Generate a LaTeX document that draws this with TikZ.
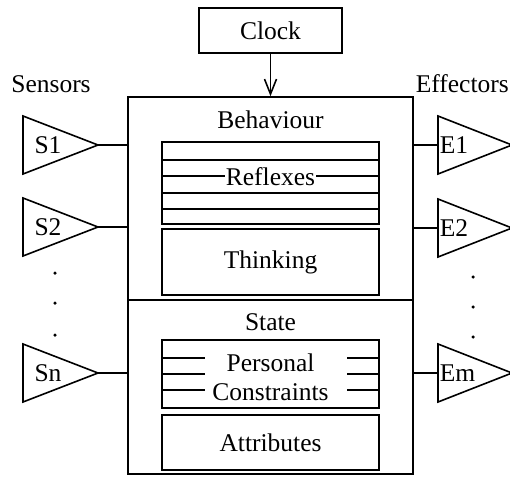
\documentclass[tikz,border=0pt]{standalone}
\usepackage{fontspec}
\setmainfont{Liberation Serif}
\usetikzlibrary{arrows.meta}

\begin{document}
\begin{tikzpicture}[x=1pt, y=-1pt, line width=1.6pt,
    font=\fontsize{25.5}{29}\selectfont,
    >={Straight Barb[length=15pt, width=12pt]},
    box/.style={draw, minimum width=217pt, inner sep=0pt},
    blob/.style={circle, fill=black, inner sep=0pt, minimum size=3.5pt}]
\useasboundingbox (0,0) rectangle (510,477);

% clock and the agent frame
\node[box, minimum width=143pt, minimum height=45pt] (clock) at (270.5,30.5) {Clock};
\node[draw, minimum width=285pt, minimum height=377pt] (agent) at (270.5,285.5) {};
\draw[->] (clock) -- (agent);
\draw (agent.west |- 0,300) -- (agent.east |- 0,300);

% behaviour part
\node (behav) at (270.5,120) {Behaviour};
\node[box, minimum height=82pt] (reflex) at (270.5,183) {};
\foreach \y in {160,176,193,209}
  \draw (reflex.west |- 0,\y) -- (reflex.east |- 0,\y);
\node[fill=white, inner xsep=1pt, inner ysep=0pt] (reflexlab) at (270.5,177) {Reflexes};
\node[box, minimum height=66pt] (think) at (270.5,262) {Thinking};

% state part
\node (state) at (270.5,322) {State};
\node[box, minimum height=68pt] (constr) at (270.5,374) {};
\foreach \y in {358,374,390} {
  \draw (constr.west |- 0,\y) -- (205,\y);
  \draw (347,\y) -- (constr.east |- 0,\y);
}
\node[align=center, inner sep=0pt] (constrlab) at (270.5,377) {Personal\\Constraints};
\node[box, minimum height=55pt] (attr) at (270.5,442.5) {Attributes};

% sensors on the left
\node (senslab) at (51,84) {Sensors};
\foreach \n/\y in {1/145, 2/227, n/373} {
  \draw (23,\y-29) -- (98,\y) -- (23,\y+29) -- cycle;
  \coordinate (s\n) at (98,\y);
  \node (slab\n) at (48,\y) {S\n};
  \draw (s\n) -- (agent.west |- s\n);
}
\foreach \y [count=\i] in {273,303,335}
  \node[blob] (sdot\i) at (55,\y) {};

% effectors on the right
\node[anchor=west, inner xsep=0pt] (efflab) at (415,84) {Effectors};
\foreach \n/\y in {1/145, 2/228, m/373} {
  \draw (438,\y-29) -- (512,\y) -- (438,\y+29) -- cycle;
  \coordinate (e\n) at (438,\y);
  \node[anchor=west, inner xsep=1pt] (elab\n) at (438,\y) {E\n};
  \draw (agent.east |- e\n) -- (e\n);
}
\foreach \y [count=\i] in {277,307,337}
  \node[blob] (edot\i) at (473,\y) {};
\end{tikzpicture}
\end{document}
